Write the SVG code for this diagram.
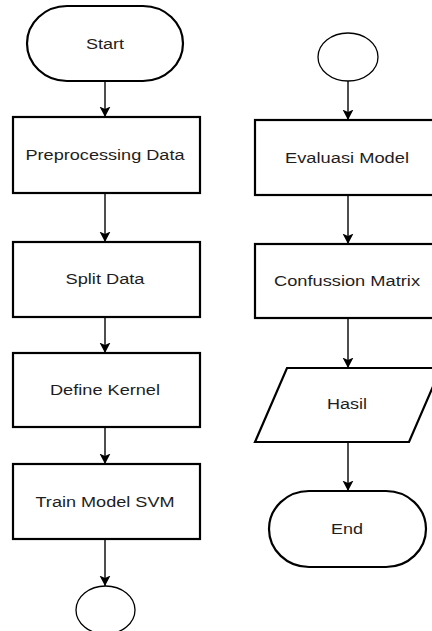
<svg xmlns="http://www.w3.org/2000/svg" width="432" height="631" viewBox="0 0 432 631">
  <style>
    .box { fill: #ffffff; stroke: #000000; stroke-width: 2.2; }
    .conn { fill: #ffffff; stroke: #000000; stroke-width: 1.3; }
    .lbl { font-family: "Liberation Sans", Arial, sans-serif; font-size: 15.5px; fill: #1e1e1e; text-anchor: middle; }
    .edge { stroke: #222222; stroke-width: 1.6; fill: none; marker-end: url(#arrow); }
  </style>
  <defs>
    <!-- filled arrowhead pointing along +x, tip at the line end -->
    <marker id="arrow" markerWidth="11" markerHeight="12" refX="10.5" refY="6" orient="auto" markerUnits="userSpaceOnUse" viewBox="0 0 11 12">
      <path d="M0,0.5 L10.5,6 L0,11.5 L2.5,6 Z" fill="#000000"/>
    </marker>
  </defs>
  <rect width="432" height="631" fill="#ffffff"/>

  <!-- connectors -->
  <g id="connectors">
    <line class="edge" x1="105" y1="81" x2="105" y2="117"/>
    <line class="edge" x1="105" y1="193" x2="105" y2="242"/>
    <line class="edge" x1="105" y1="317" x2="105" y2="353"/>
    <line class="edge" x1="105" y1="427" x2="105" y2="464"/>
    <line class="edge" x1="105" y1="539" x2="105" y2="586"/>
    <line class="edge" x1="348" y1="81" x2="348" y2="120"/>
    <line class="edge" x1="348" y1="195" x2="348" y2="244"/>
    <line class="edge" x1="348" y1="318" x2="348" y2="368"/>
    <line class="edge" x1="348" y1="442" x2="348" y2="491"/>
  </g>

  <!-- left column -->
  <g id="start">
    <rect class="box" x="27" y="6" width="156" height="75" rx="40" ry="37.5"/>
    <text class="lbl" x="105" y="49" textLength="38" lengthAdjust="spacingAndGlyphs">Start</text>
  </g>
  <g id="preprocessing">
    <rect class="box" x="13" y="117" width="187" height="76"/>
    <text class="lbl" x="105" y="160" textLength="159" lengthAdjust="spacingAndGlyphs">Preprocessing Data</text>
  </g>
  <g id="split">
    <rect class="box" x="13" y="242" width="187" height="75"/>
    <text class="lbl" x="105" y="284" textLength="79" lengthAdjust="spacingAndGlyphs">Split Data</text>
  </g>
  <g id="kernel">
    <rect class="box" x="13" y="353" width="187" height="74"/>
    <text class="lbl" x="105" y="395" textLength="110" lengthAdjust="spacingAndGlyphs">Define Kernel</text>
  </g>
  <g id="train">
    <rect class="box" x="13" y="464" width="187" height="75"/>
    <text class="lbl" x="105" y="507" textLength="139" lengthAdjust="spacingAndGlyphs">Train Model SVM</text>
  </g>
  <g id="connector-out">
    <ellipse class="conn" cx="105.5" cy="610" rx="29.5" ry="24"/>
  </g>

  <!-- right column -->
  <g id="connector-in">
    <ellipse class="conn" cx="348" cy="57" rx="30" ry="24"/>
  </g>
  <g id="evaluasi">
    <rect class="box" x="255" y="120" width="187" height="75"/>
    <text class="lbl" x="347" y="163" textLength="124" lengthAdjust="spacingAndGlyphs">Evaluasi Model</text>
  </g>
  <g id="confusion">
    <rect class="box" x="255" y="244" width="187" height="74"/>
    <text class="lbl" x="347" y="286" textLength="146" lengthAdjust="spacingAndGlyphs">Confussion Matrix</text>
  </g>
  <g id="hasil">
    <polygon class="box" points="287,368 441,368 409,442 255,442"/>
    <text class="lbl" x="347" y="409" textLength="40" lengthAdjust="spacingAndGlyphs">Hasil</text>
  </g>
  <g id="end">
    <rect class="box" x="269" y="491" width="157" height="76" rx="40" ry="38"/>
    <text class="lbl" x="347" y="534" textLength="32" lengthAdjust="spacingAndGlyphs">End</text>
  </g>
</svg>
